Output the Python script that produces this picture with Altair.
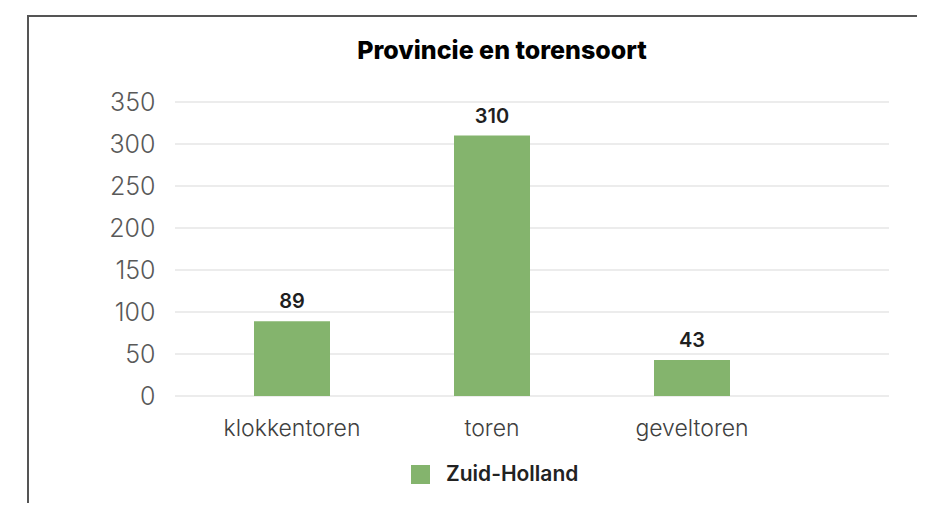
import altair as alt
import pandas as pd

categories = ["klokkentoren", "toren", "geveltoren"]
values = [89, 310, 43]
series = ["Zuid-Holland", "Zuid-Holland", "Zuid-Holland"]
y_ticks = [0, 50, 100, 150, 200, 250, 300, 350]
title_text = ["Provincie en torensoort"]

df = pd.DataFrame({"soort": categories, "aantal": values, "provincie": series})
grid_df = pd.DataFrame({"tick": y_ticks})
title_df = pd.DataFrame({"t": title_text})

FONT = "Inter"
GREEN = "#84B46D"

base = alt.Chart(df)

y_scale = alt.Scale(domain=[0, 350], nice=False)

grid = alt.Chart(grid_df).mark_rule(color="#d9d9d9", strokeWidth=1).encode(
    x=alt.value(0), x2=alt.value(714),
    y=alt.Y("tick:Q", scale=y_scale),
)

bars = base.mark_bar(color=GREEN).encode(
    x=alt.X(
        "soort:N",
        sort=categories,
        title=None,
        scale=alt.Scale(range=[17, 617], paddingInner=0.62, paddingOuter=0.31),
        axis=alt.Axis(
            labelAngle=0,
            labelFont=FONT,
            labelFontSize=23,
            labelFontWeight=300,
            labelColor="#404040",
            labelPadding=21,
            ticks=False,
            domain=False,
            grid=False,
        ),
    ),
    y=alt.Y(
        "aantal:Q",
        title=None,
        scale=y_scale,
        axis=alt.Axis(
            values=y_ticks,
            labelFont=FONT,
            labelFontSize=25,
            labelFontWeight=300,
            labelColor="#595959",
            labelPadding=20,
            ticks=False,
            domain=False,
            grid=False,
        ),
    ),
    color=alt.Color(
        "provincie:N",
        scale=alt.Scale(range=[GREEN]),
        legend=alt.Legend(
            title=None,
            orient="none",
            legendX=235,
            legendY=362,
            symbolType="square",
            symbolSize=361,
            symbolStrokeWidth=0,
            symbolOpacity=1,
            labelFont=FONT,
            labelFontSize=21,
            labelFontWeight=600,
            labelColor="#222222",
            labelOffset=15,
        ),
    ),
)

labels = base.mark_text(
    font=FONT, fontSize=20, fontWeight=600, color="#1f1f1f",
    baseline="alphabetic", dy=-13,
).encode(
    x=alt.X("soort:N", sort=categories),
    y="aantal:Q",
    text="aantal:Q",
)

title = alt.Chart(title_df).mark_text(
    font=FONT, fontSize=25, fontWeight=800, color="#000000",
    align="center", baseline="alphabetic",
).encode(
    text="t:N", x=alt.value(327), y=alt.value(-43),
)

frame_left = base.mark_rule(color="#555555", strokeWidth=2, clip=False).encode(
    x=alt.value(-147), y=alt.value(-86), y2=alt.value(420)
)
frame_top = base.mark_rule(color="#555555", strokeWidth=2, clip=False).encode(
    x=alt.value(-148), x2=alt.value(780), y=alt.value(-86)
)

chart = alt.layer(frame_left, frame_top, grid, bars, labels, title).properties(
    width=714,
    height=294,
    autosize=alt.AutoSizeParams(type="none"),
    padding={"left": 167, "top": 94, "right": 28, "bottom": 107},
).configure_view(stroke=None)

chart.save("out.html", embed_options={"renderer": "svg", "actions": False})
